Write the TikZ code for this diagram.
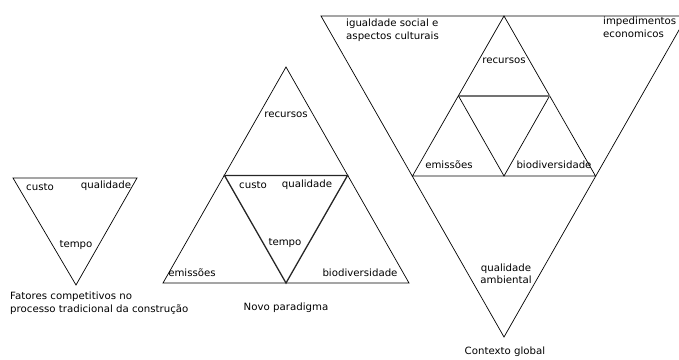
\documentclass[tikz,border=0pt]{standalone}
\usepackage{fontspec}
\setmainfont{DejaVu Sans}[FakeStretch=1.02]
\begin{document}
\begin{tikzpicture}[x=1pt,y=-1pt,
  thin line/.style={line width=0.7pt,line join=miter},
  thick line/.style={line width=1.3pt,black!85},
  gray line/.style={line width=1.3pt,black!55},
  lbl/.style={font=\fontsize{10}{12.5}\selectfont,inner sep=0pt},
  lbll/.style={lbl,align=left,anchor=north west},
  lblc/.style={lbl,align=center}]
\useasboundingbox (0,0) rectangle (679,359);
\begin{scope}
\clip (0,0) rectangle (679,359);
% left triangle
\coordinate (L1) at (13,178); \coordinate (L2) at (137,178); \coordinate (L3) at (76,285);
\draw[thin line] (L1) -- (L2) -- (L3) -- cycle;
% middle triangle
\coordinate (MA) at (286,67); \coordinate (MBL) at (163,283); \coordinate (MBR) at (409,283);
\coordinate (MML) at (224.5,175.5); \coordinate (MMR) at (347.5,175.5); \coordinate (MBM) at (286,283);
\draw[thin line] (MA) -- (MBR) -- (MBL) -- cycle;
\draw[thick line] (MML) -- (MMR) -- (MBM) -- cycle;
% right big inverted triangle
\coordinate (RT1) at (321,16); \coordinate (RT2) at (687,16); \coordinate (RAp) at (504,337);
\draw[thin line] (RT1) -- (RT2) -- (RAp) -- cycle;
\coordinate (RA) at (504,16); \coordinate (RBL) at (412.5,176); \coordinate (RBR) at (595.5,176);
\coordinate (RML) at (458.5,96); \coordinate (RMR) at (549.5,96); \coordinate (RBM) at (504,176);
\draw[thin line] (RA) -- (RBR) -- (RBL) -- cycle;
\draw[thin line] (RML) -- (RBM) -- (RMR);
\draw[gray line] (RML) -- (RMR);
\end{scope}
% labels left
\node[lblc] (lcusto) at (40,187) {custo};
\node[lblc] (lqual) at (106,186) {qualidade};
\node[lblc] (ltempo) at (76,245) {tempo};
\node[lbll] (lcap) at (10,292) {Fatores competitivos no\\processo tradicional da construção};
% labels middle
\node[lblc] (mrec) at (286,115) {recursos};
\node[lblc] (mcusto) at (253,185) {custo};
\node[lblc] (mqual) at (307,185) {qualidade};
\node[lblc] (mtempo) at (285,243) {tempo};
\node[lblc] (memis) at (192,273) {emissões};
\node[lblc] (mbio) at (360,273) {biodiversidade};
\node[lblc] (mcap) at (286,308) {Novo paradigma};
% labels right
\node[lbll] (rigual) at (346,19) {igualdade social e\\aspectos culturais};
\node[lbll] (rimped) at (603,17) {impedimentos\\economicos};
\node[lblc] (rrec) at (504,61) {recursos};
\node[lblc] (remis) at (449,165) {emissões};
\node[lblc] (rbio) at (554,165) {biodiversidade};
\node[lblc] (rqual) at (506,274) {qualidade\\ambiental};
\node[lblc] (rcap) at (505,352) {Contexto global};
\end{tikzpicture}
\end{document}
